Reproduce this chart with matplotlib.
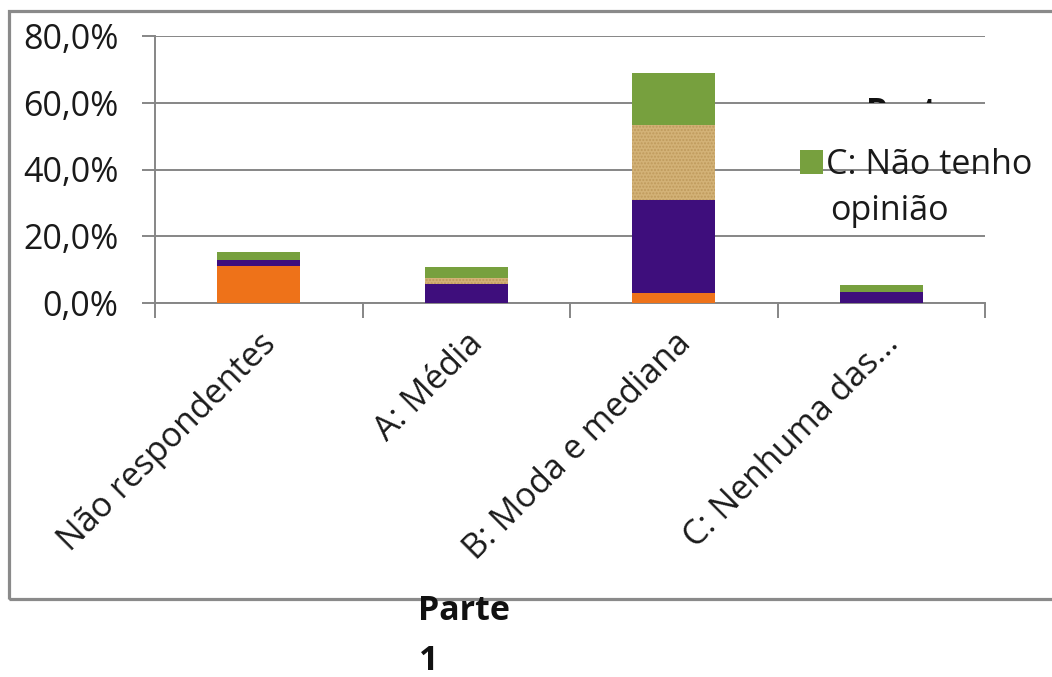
import matplotlib
matplotlib.use("Agg")
import matplotlib.pyplot as plt
import numpy as np
from matplotlib.patches import Rectangle
from matplotlib.transforms import Bbox, TransformedBbox
from matplotlib.ticker import FuncFormatter

# ---- data (percent) ----
categories = ["Não respondentes", "A: Média", "B: Moda e mediana", "C: Nenhuma das..."]
series_names = ["Não respondentes", "A", "B", "C: Não tenho opinião"]
s_orange = [11.0, 0.0, 2.9, 0.0]
s_purple = [1.8, 5.7, 27.9, 3.4]
s_tan = [0.0, 1.8, 22.5, 0.0]
s_green = [2.4, 3.3, 15.7, 2.0]
yticks = [0, 20, 40, 60, 80]
legend_label = ["C: Não tenho", "opinião"]
axis_title = ["Parte", "1"]

colors = ["#EE7219", "#3E0E7C", "#D3B277", "#77A03E"]

W, H = 1052, 677
plt.rcParams['font.family'] = ['Open Sans', 'DejaVu Sans']
FS = 24.5

fig = plt.figure(figsize=(W / 100, H / 100), dpi=100)
ax = fig.add_axes([155 / W, 1 - 303 / H, 830 / W, 267 / H])

x = np.arange(len(categories))
bottom = np.zeros(len(categories))
series = [s_orange, s_purple, s_tan, s_green]
for i, (vals, c) in enumerate(zip(series, colors)):
    v = np.array(vals) / 100.0
    if i == 2:
        kw = dict(hatch='.....', edgecolor='#BF9A5C', linewidth=0)
    else:
        kw = dict(linewidth=0)
    ax.bar(x, v, width=0.4, bottom=bottom, color=c, label=series_names[i], zorder=3, **kw)
    bottom += v

ax.set_xlim(-0.5, len(categories) - 0.5)
ax.set_ylim(0, 0.8)
ax.set_yticks(np.array(yticks) / 100.0)
ax.yaxis.set_major_formatter(FuncFormatter(lambda v, p: f"{v*100:.1f}%".replace('.', ',')))
ax.yaxis.grid(True, color='#868686', linewidth=1.4, zorder=0)
ax.set_axisbelow(True)

for s in ['top', 'right']:
    ax.spines[s].set_visible(False)
for s in ['left', 'bottom']:
    ax.spines[s].set_color('#868686')
    ax.spines[s].set_linewidth(1.4)

ax.tick_params(axis='y', direction='out', length=9.4, width=1.4, color='#868686',
               pad=17, labelsize=FS, labelcolor='#1a1a1a')
ax.set_xticks(x)
ax.set_xticks(np.arange(len(categories) + 1) - 0.5, minor=True)
ax.tick_params(axis='x', which='major', length=0, pad=17, labelsize=FS, labelcolor='#1a1a1a')
ax.tick_params(axis='x', which='minor', direction='out', length=10.8, width=1.4, color='#868686')
ax.set_xticklabels(categories, rotation=45, ha='right', va='top', rotation_mode='anchor')

# outer chart frame
fig.add_artist(Rectangle((9.5 / W, 1 - 599 / H), 1.2, (599 - 11) / H, transform=fig.transFigure,
                         fill=False, edgecolor='#8a8a8a', linewidth=2.3, clip_on=False))

# legend (only visible entry)
fig.add_artist(Rectangle((800 / W, 1 - 174 / H), 23 / W, 24 / H, transform=fig.transFigure,
                         facecolor=colors[3], edgecolor='none'))
fig.text(826 / W, 1 - 174 / H, legend_label[0], fontsize=FS, va='baseline', ha='left', color='#1a1a1a')
fig.text(830 / W, 1 - 220 / H, legend_label[1], fontsize=FS, va='baseline', ha='left', color='#1a1a1a')

# partially hidden legend title
t = fig.text(866 / W, 1 - 122 / H, axis_title[0], fontsize=FS, fontweight='bold', va='baseline', ha='left',
             color='#111111')
t.set_clip_box(TransformedBbox(Bbox.from_extents(0, 1 - 102.5 / H, 1, 1), fig.transFigure))
t.set_clip_on(True)

# axis title below frame
fig.text(418 / W, 1 - 620 / H, axis_title[0], fontsize=FS, fontweight='bold', va='baseline', ha='left',
         color='#111111')
fig.text(419 / W, 1 - 670 / H, axis_title[1], fontsize=FS, fontweight='bold', va='baseline', ha='left',
         color='#111111')

fig.savefig("out.png", dpi=100)
